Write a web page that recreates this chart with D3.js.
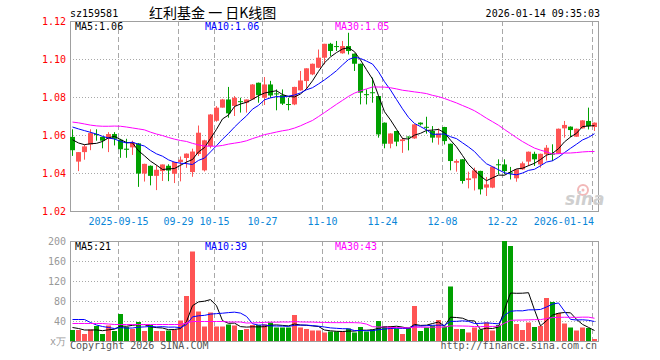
<!DOCTYPE html>
<html>
<head>
<meta charset="utf-8">
<script src="https://cdn.jsdelivr.net/npm/d3@7"></script>
<style>
body { margin: 0; background: #fff; }
text { font-family: "DejaVu Sans Mono", monospace; font-size: 10px; }
</style>
</head>
<body>
<div id="chart"></div>
<script>
// trading days shown
const dates = [
  "2025-09-03","2025-09-04","2025-09-05","2025-09-08","2025-09-09","2025-09-10","2025-09-11","2025-09-12","2025-09-15","2025-09-16",
  "2025-09-17","2025-09-18","2025-09-19","2025-09-22","2025-09-23","2025-09-24","2025-09-25","2025-09-26","2025-09-29","2025-09-30",
  "2025-10-09","2025-10-10","2025-10-13","2025-10-14","2025-10-15","2025-10-16","2025-10-17","2025-10-20","2025-10-21","2025-10-22",
  "2025-10-23","2025-10-24","2025-10-27","2025-10-28","2025-10-29","2025-10-30","2025-10-31","2025-11-03","2025-11-04","2025-11-05",
  "2025-11-06","2025-11-07","2025-11-10","2025-11-11","2025-11-12","2025-11-13","2025-11-14","2025-11-17","2025-11-18","2025-11-19",
  "2025-11-20","2025-11-21","2025-11-24","2025-11-25","2025-11-26","2025-11-27","2025-11-28","2025-12-01","2025-12-02","2025-12-03",
  "2025-12-04","2025-12-05","2025-12-08","2025-12-09","2025-12-10","2025-12-11","2025-12-12","2025-12-15","2025-12-16","2025-12-17",
  "2025-12-18","2025-12-19","2025-12-22","2025-12-23","2025-12-24","2025-12-25","2025-12-26","2025-12-29","2025-12-30","2025-12-31",
  "2026-01-05","2026-01-06","2026-01-07","2026-01-08","2026-01-09","2026-01-12","2026-01-13","2026-01-14"
];

const open = [
  1.059,1.046,1.051,1.055,1.0605,1.059,1.058,1.0605,1.0575,1.0528,
  1.0535,1.0556,1.0397,1.0438,1.0385,1.041,1.0438,1.0396,1.0458,1.0479,
  1.0405,1.050,1.0414,1.0542,1.0675,1.0744,1.0787,1.0753,1.0778,1.077,
  1.0787,1.0875,1.0796,1.0866,1.0819,1.081,1.0763,1.0761,1.0835,1.0884,
  1.0919,1.0954,1.1007,1.108,1.1068,1.103,1.1068,1.1028,1.0975,1.0815,
  1.0825,1.0805,1.0665,1.0554,1.0621,1.0568,1.0592,1.0582,1.0665,1.0643,
  1.0621,1.0586,1.0642,1.0554,1.0454,1.0472,1.0363,1.0372,1.0411,1.0323,
  1.0323,1.0446,1.0445,1.0403,1.0372,1.0419,1.046,1.0501,1.0445,1.0498,
  1.0502,1.0501,1.0635,1.0644,1.0591,1.0635,1.0674,1.0642
];
const high = [
  1.063,1.051,1.055,1.063,1.063,1.059,1.0615,1.0615,1.058,1.058,
  1.057,1.0558,1.0449,1.044,1.0442,1.0445,1.0446,1.0459,1.0487,1.0503,
  1.0528,1.065,1.0575,1.071,1.0752,1.079,1.0853,1.0805,1.0796,1.0787,
  1.0868,1.0876,1.0905,1.0885,1.084,1.084,1.0796,1.0854,1.0937,1.0951,
  1.0976,1.105,1.108,1.1085,1.1095,1.1095,1.1138,1.1029,1.0976,1.084,
  1.0902,1.0806,1.0666,1.0609,1.0622,1.0586,1.0592,1.0657,1.0666,1.0696,
  1.0647,1.0634,1.0643,1.0555,1.0472,1.0473,1.0407,1.0428,1.0412,1.0379,
  1.0434,1.0472,1.0472,1.0432,1.042,1.046,1.0513,1.0512,1.0502,1.0547,
  1.0551,1.0634,1.0674,1.0645,1.0634,1.0678,1.0744,1.0666
];
const low = [
  1.049,1.041,1.047,1.052,1.057,1.053,1.051,1.0545,1.048,1.048,
  1.0495,1.0327,1.0355,1.0335,1.031,1.0358,1.0357,1.0347,1.0356,1.0427,
  1.038,1.049,1.0408,1.053,1.067,1.0744,1.0691,1.070,1.0718,1.0718,
  1.0785,1.077,1.0758,1.0795,1.073,1.0758,1.073,1.0757,1.0833,1.084,
  1.0915,1.0952,1.0972,1.1016,1.1042,1.1028,1.1024,1.0937,1.0761,1.0761,
  1.077,1.0586,1.053,1.053,1.0541,1.0506,1.0519,1.058,1.065,1.0607,
  1.056,1.0549,1.055,1.0414,1.0407,1.0344,1.0319,1.0308,1.0287,1.0279,
  1.032,1.0393,1.0393,1.0366,1.0354,1.0417,1.0437,1.0437,1.0428,1.0466,
  1.0463,1.050,1.0586,1.0589,1.059,1.0634,1.0629,1.0621
];
const close = [
  1.052,1.051,1.054,1.061,1.060,1.057,1.0605,1.058,1.0525,1.0522,
  1.056,1.0397,1.0448,1.0385,1.0417,1.0445,1.0413,1.0458,1.047,1.0502,
  1.0513,1.0612,1.0572,1.0708,1.0744,1.0787,1.0714,1.0796,1.0775,1.0787,
  1.0866,1.081,1.0866,1.0808,1.0815,1.0765,1.076,1.0853,1.0887,1.0951,
  1.0975,1.1007,1.108,1.1042,1.1065,1.1068,1.1042,1.0975,1.0823,1.0811,
  1.0821,1.0603,1.0554,1.0608,1.0565,1.0577,1.059,1.0656,1.0656,1.0641,
  1.0586,1.0608,1.0568,1.0463,1.0463,1.0358,1.0372,1.0414,1.0314,1.034,
  1.0433,1.0444,1.041,1.0401,1.0419,1.0451,1.0512,1.0472,1.0501,1.0533,
  1.05,1.0633,1.0653,1.0626,1.0633,1.0677,1.0647,1.0665
];
// volume, 万
const volume = [
  22,22,14,23,30,14,31,20,54,28,
  24,38,20,32,20,20,21,22,41,90,
  179,59,29,57,29,29,33,31,22,24,
  32,32,33,37,27,27,27,52,27,24,
  21,21,17,19,19,19,25,17,28,19,
  23,40,30,30,25,14,27,70,20,27,
  31,42,29,109,24,24,17,27,23,37,
  21,32,200,190,34,22,37,28,30,86,
  78,56,35,27,21,27,26,4
];

// MA values before a full window exists
const ma5Head = [1.0575,1.0558,1.0549,1.0554];
const ma10Head = [1.0642,1.0632,1.0623,1.0614,1.0605,1.0593,1.0584,1.0579,1.0566];
const ma30Head = [1.0668,1.0664,1.0658,1.0652,1.0648,1.0646,1.0646,1.0647,1.0646,1.0642,
  1.0637,1.0632,1.0627,1.0615,1.0605,1.0597,1.0587,1.0578,1.0571,1.0566,
  1.0556,1.0548,1.0542,1.0541,1.0541,1.0545,1.0552,1.0557,1.0562];
const volMa5Head = [27,25,22,22];
const volMa10Head = [43,43,43,37,32,29,27,25,27];
const volMa30Head = [35,35,35,35,35,35,34,33,33,33,33,33,33,33,33,33,33,33,33,36,39,39,39,39,39,39,38,38,38];

const tickDates = ["2025-09-15","2025-09-29","2025-10-15","2025-10-27","2025-11-10","2025-11-24","2025-12-08","2025-12-22","2026-01-14"];
const tickLabels = ["2025-09-15","09-29","10-15","10-27","11-10","11-24","12-08","12-22","2026-01-14"];
const priceTicks = [1.12, 1.10, 1.08, 1.06, 1.04, 1.02];
const volTicks = [200, 160, 120, 80, 40];
const priceLegend = ["MA5:1.06", "MA10:1.06", "MA30:1.05"];
const volLegend = ["MA5:21", "MA10:39", "MA30:43"];

const red = "#ff5454", green = "#00a000", grid = "#a8a8a8";
const left = 70, right = 598;

const svg = d3.select("#chart")
  .append("svg")
    .attr("width", 660)
    .attr("height", 360)
    .style("display", "block");

const x = d3.scaleBand()
    .domain(dates)
    .range([left, right - 1])
    .paddingInner(1 / 6)
    .paddingOuter(0);

const y = d3.scaleLinear().domain([1.02, 1.12]).range([211, 21]);
const yv = d3.scaleLinear().domain([0, 200]).range([341, 241]);

function movingAvg(values, n, head) {
  return values.map((v, i) => i < n - 1 ? head[i] : d3.mean(values.slice(i - n + 1, i + 1)));
}

// header
svg.append("text").attr("x", 70).attr("y", 16.5).text("sz159581");
svg.append("text").attr("x", 149).attr("y", 18)
    .style("font-family", "'Noto Sans CJK SC'").style("font-size", "14px")
    .text("红利基金 一 日K线图");
svg.append("text").attr("x", 600).attr("y", 16.5).attr("text-anchor", "end").text("2026-01-14 09:35:03");

function panel(top, bottom, scale, ticks, color) {
  // dotted horizontal grid
  svg.append("g").selectAll("line")
    .data(ticks.slice(1))
    .enter().append("line")
      .attr("x1", left).attr("x2", right)
      .attr("y1", d => Math.round(scale(d)) + 0.5)
      .attr("y2", d => Math.round(scale(d)) + 0.5)
      .attr("stroke", grid).attr("stroke-dasharray", "1,2");
  // dashed vertical grid
  svg.append("g").selectAll("line")
    .data(tickDates)
    .enter().append("line")
      .attr("x1", d => x(d) + 0.5).attr("x2", d => x(d) + 0.5)
      .attr("y1", top).attr("y2", bottom)
      .attr("stroke", grid).attr("stroke-dasharray", "5,3");
  svg.append("rect")
    .attr("x", left + 0.5).attr("y", top + 0.5)
    .attr("width", right - left).attr("height", bottom - top)
    .attr("fill", "none").attr("stroke", "#a0a0a0");
  svg.append("g").selectAll("text")
    .data(ticks)
    .enter().append("text")
      .attr("x", 66).attr("y", d => scale(d) + 4)
      .attr("text-anchor", "end").attr("fill", color)
      .text(d => color === "red" ? d.toFixed(2) : d);
}

panel(21, 211, y, priceTicks, "red");
panel(241, 341, yv, volTicks, "#999");

// watermark
svg.append("circle").attr("cx", 583).attr("cy", 190).attr("r", 5)
    .attr("fill", "none").attr("stroke", "#f2b8b8").attr("stroke-width", 2);
svg.append("circle").attr("cx", 583).attr("cy", 190).attr("r", 1.5).attr("fill", "#f2b8b8");
svg.append("text").attr("x", 565).attr("y", 205)
    .style("font-family", "'DejaVu Sans'").style("font-style", "italic")
    .style("font-weight", "bold").style("font-size", "17px")
    .attr("fill", "#cfcfcf").text("sina");

// date labels
svg.append("g").selectAll("text")
  .data(tickDates)
  .enter().append("text")
    .attr("x", (d, i) => i === tickDates.length - 1 ? 594 : x(d) + 0.5)
    .attr("y", 225)
    .attr("text-anchor", (d, i) => i === tickDates.length - 1 ? "end" : "middle")
    .attr("fill", "#0a86d8")
    .text((d, i) => tickLabels[i]);

// candles
const candles = svg.append("g").selectAll("g")
  .data(dates)
  .enter().append("g");
candles.append("line")
    .attr("x1", d => x(d) + 2.5).attr("x2", d => x(d) + 2.5)
    .attr("y1", (d, i) => y(high[i])).attr("y2", (d, i) => y(low[i]))
    .attr("stroke", (d, i) => close[i] >= open[i] ? red : green);
candles.append("rect")
    .attr("x", d => x(d))
    .attr("y", (d, i) => y(Math.max(open[i], close[i])))
    .attr("width", x.bandwidth())
    .attr("height", (d, i) => Math.max(1, Math.abs(y(open[i]) - y(close[i]))))
    .attr("fill", (d, i) => close[i] >= open[i] ? red : green);

// volume bars
svg.append("g").selectAll("rect")
  .data(dates)
  .enter().append("rect")
    .attr("x", d => x(d))
    .attr("y", (d, i) => yv(volume[i]))
    .attr("width", x.bandwidth())
    .attr("height", (d, i) => yv(0) - yv(volume[i]))
    .attr("fill", (d, i) => close[i] >= open[i] ? red : green);

// moving average lines
const maColors = ["#000", "#0000ff", "#ff00ff"];
const priceMas = [movingAvg(close, 5, ma5Head), movingAvg(close, 10, ma10Head), movingAvg(close, 30, ma30Head)];
const volMas = [movingAvg(volume, 5, volMa5Head), movingAvg(volume, 10, volMa10Head), movingAvg(volume, 30, volMa30Head)];

priceMas.forEach((ma, k) => {
  svg.append("path")
    .datum(ma)
    .attr("fill", "none").attr("stroke", maColors[k]).attr("stroke-width", 1)
    .attr("d", d3.line().x((d, i) => x(dates[i]) + 2.5).y(d => y(d)));
});
volMas.forEach((ma, k) => {
  svg.append("path")
    .datum(ma)
    .attr("fill", "none").attr("stroke", maColors[k]).attr("stroke-width", 1)
    .attr("d", d3.line().x((d, i) => x(dates[i]) + 2.5).y(d => yv(d)));
});

// legends
const legendX = [75, 205, 335];
priceLegend.forEach((t, k) => {
  svg.append("text").attr("x", legendX[k]).attr("y", 30).attr("fill", maColors[k]).text(t);
});
volLegend.forEach((t, k) => {
  svg.append("text").attr("x", legendX[k]).attr("y", 250).attr("fill", maColors[k]).text(t);
});

svg.append("text").attr("x", 66).attr("y", 345).attr("text-anchor", "end").attr("fill", "#999").text("x万");
svg.append("text").attr("x", 70).attr("y", 349).attr("fill", "#555").text("Copyright 2026 SINA.COM");
svg.append("text").attr("x", 597).attr("y", 349).attr("text-anchor", "end").attr("fill", "#555").text("http://finance.sina.com.cn");
</script>
</body>
</html>
